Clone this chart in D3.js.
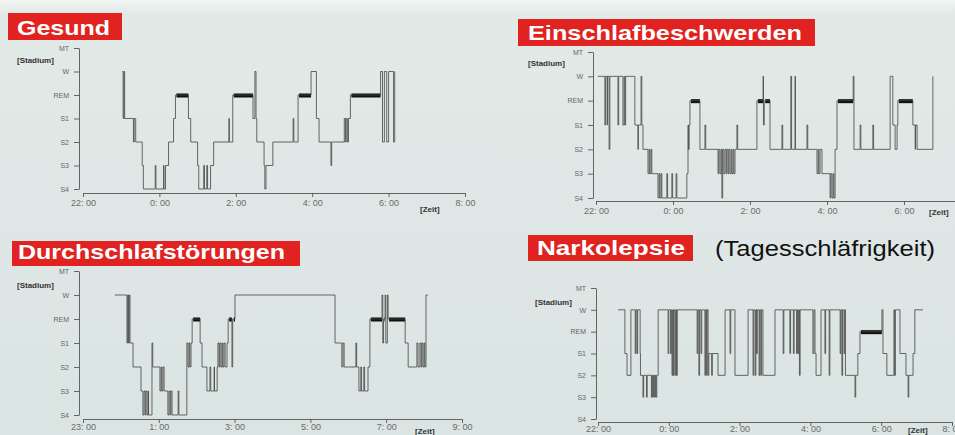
<!DOCTYPE html>
<html>
<head>
<meta charset="utf-8">
<script src="https://cdn.jsdelivr.net/npm/d3@7"></script>
<style>
  html, body { margin: 0; padding: 0; background: #dde6e4; }
  svg { display: block; }
  .tick text { font-family: 'Liberation Sans', Arial, sans-serif; }
</style>
</head>
<body>
<div id="chart"></div>
<script>
// sleep stages, top to bottom
const stages = ['MT', 'W', 'REM', 'S1', 'S2', 'S3', 'S4']

// [clock hour (past midnight continues above 24), stage]
const gesund = [
  [23.03, 'W'], [23.05, 'S1'], [23.07, 'W'], [23.09, 'S1'], [23.32, 'S2'], [23.34, 'S1'], [23.38, 'S2'],
  [23.55, 'S3'], [23.58, 'S4'], [23.89, 'S3'], [23.91, 'S4'], [24.11, 'S3'], [24.12, 'S4'], [24.16, 'S3'],
  [24.24, 'S2'], [24.37, 'S1'], [24.42, 'REM'], [24.76, 'S1'], [24.82, 'S2'], [25.0, 'S3'], [25.03, 'S4'],
  [25.16, 'S3'], [25.18, 'S4'], [25.24, 'S3'], [25.26, 'S4'], [25.34, 'S3'], [25.42, 'S2'], [25.82, 'S1'],
  [25.83, 'S2'], [25.92, 'REM'], [26.45, 'S1'], [26.5, 'W'], [26.53, 'S1'], [26.55, 'S2'], [26.74, 'S3'],
  [26.76, 'S4'], [26.79, 'S3'], [26.97, 'S2'], [27.5, 'S1'], [27.52, 'S2'], [27.63, 'REM'], [27.97, 'W'],
  [28.11, 'S1'], [28.18, 'S2'], [28.49, 'S3'], [28.51, 'S2'], [28.84, 'S1'], [28.87, 'S2'], [28.89, 'S1'],
  [28.92, 'S2'], [28.95, 'S1'], [29.0, 'REM'], [29.79, 'W'], [29.84, 'S2'], [29.89, 'W'], [29.95, 'S2'],
  [30.0, 'W'], [30.13, 'S2'], [30.16, 'W']
]

const einschlaf = [
  [22.05, 'W'], [22.23, 'S1'], [22.25, 'W'], [22.29, 'S1'], [22.3, 'W'], [22.34, 'S2'], [22.36, 'W'],
  [22.57, 'S1'], [22.59, 'W'], [22.7, 'S1'], [22.73, 'W'], [22.75, 'S1'], [22.77, 'W'], [23.01, 'S1'],
  [23.09, 'S2'], [23.1, 'S1'], [23.17, 'W'], [23.19, 'S1'], [23.22, 'S2'], [23.35, 'S3'], [23.38, 'S2'],
  [23.4, 'S3'], [23.43, 'S2'], [23.45, 'S3'], [23.61, 'S4'], [23.64, 'S3'], [23.66, 'S4'], [23.69, 'S3'],
  [23.71, 'S4'], [23.84, 'S3'], [23.86, 'S4'], [23.97, 'S3'], [23.99, 'S4'], [24.08, 'S3'], [24.1, 'S4'],
  [24.36, 'S3'], [24.39, 'S1'], [24.4, 'S2'], [24.42, 'S1'], [24.44, 'REM'], [24.7, 'S2'], [24.83, 'S1'],
  [24.85, 'S2'], [25.17, 'S3'], [25.19, 'S2'], [25.22, 'S3'], [25.25, 'S2'], [25.27, 'S4'], [25.29, 'S2'],
  [25.32, 'S3'], [25.35, 'S2'], [25.38, 'S3'], [25.4, 'S2'], [25.43, 'S3'], [25.45, 'S2'], [25.48, 'S3'],
  [25.51, 'S2'], [25.53, 'S3'], [25.56, 'S2'], [25.58, 'S3'], [25.61, 'S2'], [25.66, 'S1'], [25.68, 'S2'],
  [26.18, 'REM'], [26.34, 'W'], [26.35, 'S1'], [26.37, 'REM'], [26.52, 'S2'], [26.83, 'S1'], [26.85, 'S2'],
  [27.06, 'W'], [27.08, 'S2'], [27.17, 'W'], [27.18, 'S2'], [27.48, 'S1'], [27.5, 'S2'], [27.74, 'S3'],
  [27.77, 'S2'], [27.79, 'S3'], [27.82, 'S2'], [27.87, 'S3'], [28.08, 'S4'], [28.1, 'S3'], [28.13, 'S4'],
  [28.16, 'S3'], [28.18, 'S4'], [28.21, 'S2'], [28.26, 'REM'], [28.68, 'W'], [28.7, 'S2'], [28.86, 'S1'],
  [28.88, 'S2'], [29.19, 'S1'], [29.21, 'S2'], [29.64, 'W'], [29.71, 'S1'], [29.77, 'S2'], [29.82, 'S1'],
  [29.84, 'REM'], [30.23, 'S1'], [30.29, 'S2'], [30.3, 'S1'], [30.34, 'S2'], [30.75, 'W']
]

const durchschlaf = [
  [23.84, 'W'], [24.16, 'S1'], [24.18, 'W'], [24.2, 'S1'], [24.22, 'W'], [24.24, 'S1'], [24.32, 'S2'],
  [24.53, 'S3'], [24.58, 'S4'], [24.61, 'S3'], [24.64, 'S4'], [24.66, 'S3'], [24.69, 'S4'], [24.72, 'S3'],
  [24.73, 'S4'], [24.82, 'S1'], [24.84, 'S2'], [25.03, 'S3'], [25.06, 'S2'], [25.08, 'S3'], [25.11, 'S2'],
  [25.14, 'S3'], [25.24, 'S4'], [25.27, 'S3'], [25.3, 'S4'], [25.32, 'S3'], [25.35, 'S4'], [25.51, 'S3'],
  [25.53, 'S4'], [25.74, 'S1'], [25.77, 'S2'], [25.8, 'S1'], [25.82, 'S2'], [25.85, 'S1'], [25.88, 'REM'],
  [26.09, 'S1'], [26.14, 'S2'], [26.27, 'S3'], [26.35, 'S2'], [26.37, 'S3'], [26.46, 'S2'], [26.47, 'S3'],
  [26.54, 'S2'], [26.56, 'S1'], [26.59, 'S2'], [26.61, 'S1'], [26.64, 'S2'], [26.67, 'S1'], [26.69, 'S2'],
  [26.72, 'S1'], [26.75, 'S2'], [26.8, 'S1'], [26.83, 'REM'], [26.93, 'S2'], [26.95, 'REM'], [27.01, 'W'],
  [29.65, 'S1'], [29.83, 'S2'], [29.86, 'S1'], [29.89, 'S2'], [30.2, 'S1'], [30.22, 'S2'], [30.28, 'S3'],
  [30.33, 'S2'], [30.35, 'S3'], [30.41, 'S2'], [30.43, 'S3'], [30.52, 'S2'], [30.57, 'REM'], [30.89, 'W'],
  [30.91, 'S1'], [30.93, 'REM'], [30.97, 'W'], [30.99, 'S1'], [31.03, 'W'], [31.05, 'REM'], [31.5, 'S1'],
  [31.58, 'S2'], [31.81, 'S1'], [31.84, 'S2'], [31.89, 'S1'], [31.92, 'S2'], [31.94, 'S1'], [31.97, 'S2'],
  [32.0, 'S1'], [32.02, 'S2'], [32.05, 'W'], [32.1, 'W']
]

const narkolepsie = [
  [22.57, 'W'], [22.76, 'S1'], [22.82, 'S2'], [22.93, 'W'], [23.05, 'S1'], [23.07, 'W'], [23.1, 'S1'],
  [23.12, 'W'], [23.19, 'S1'], [23.2, 'S2'], [23.27, 'S3'], [23.29, 'S2'], [23.37, 'S3'], [23.39, 'S2'],
  [23.51, 'S3'], [23.53, 'S2'], [23.55, 'S3'], [23.57, 'S2'], [23.6, 'S3'], [23.62, 'S2'], [23.64, 'S3'],
  [23.66, 'S2'], [23.7, 'W'], [23.98, 'S1'], [24.0, 'W'], [24.05, 'S1'], [24.07, 'W'], [24.09, 'S2'],
  [24.11, 'W'], [24.13, 'S2'], [24.15, 'W'], [24.18, 'S2'], [24.2, 'W'], [24.22, 'S2'], [24.24, 'W'],
  [24.8, 'S1'], [24.82, 'W'], [24.85, 'S2'], [24.87, 'W'], [24.91, 'S1'], [24.93, 'W'], [25.02, 'S2'],
  [25.04, 'W'], [25.07, 'S2'], [25.08, 'W'], [25.11, 'S2'], [25.13, 'S1'], [25.21, 'S2'], [25.23, 'S1'],
  [25.39, 'S2'], [25.59, 'W'], [25.73, 'S1'], [25.75, 'W'], [25.87, 'S2'], [26.24, 'W'], [26.38, 'S2'],
  [26.4, 'W'], [26.44, 'S2'], [26.46, 'W'], [26.48, 'S1'], [26.5, 'W'], [26.55, 'S2'], [26.57, 'W'],
  [26.6, 'S2'], [26.62, 'W'], [26.66, 'S2'], [27.0, 'W'], [27.23, 'S1'], [27.25, 'W'], [27.42, 'S1'],
  [27.44, 'W'], [27.52, 'S1'], [27.54, 'W'], [27.61, 'S1'], [27.63, 'W'], [27.65, 'S1'], [27.67, 'W'],
  [27.69, 'S2'], [27.71, 'W'], [28.07, 'S1'], [28.1, 'W'], [28.13, 'S1'], [28.16, 'S2'], [28.3, 'W'],
  [28.41, 'S1'], [28.43, 'W'], [28.53, 'S2'], [28.55, 'W'], [28.84, 'S1'], [28.86, 'W'], [28.89, 'S2'],
  [28.91, 'W'], [28.95, 'S1'], [28.97, 'W'], [28.99, 'S2'], [29.26, 'S3'], [29.28, 'S2'], [29.34, 'S1'],
  [29.4, 'REM'], [30.02, 'W'], [30.05, 'S1'], [30.16, 'S2'], [30.36, 'W'], [30.38, 'S2'], [30.4, 'W'],
  [30.53, 'S1'], [30.7, 'S2'], [30.76, 'S3'], [30.78, 'S2'], [30.9, 'S1'], [30.95, 'W'], [31.18, 'W']
]

const ticksEven = [22, 24, 26, 28, 30, 32]
const ticksEvenShort = [22, 24, 26, 28, 30]
const ticksOdd = [23, 25, 27, 29, 31, 33]

const titles = ['Gesund', 'Einschlafbeschwerden', 'Durchschlafstörungen', 'Narkolepsie']
const subtitle = '(Tagesschläfrigkeit)'

const width = 955
const height = 435
const font = "'Liberation Sans', Arial, sans-serif"

const svg = d3.select('#chart').append('svg')
  .attr('width', width)
  .attr('height', height)

// photo-like backdrop: paler strip on top
const grad = svg.append('defs').append('linearGradient')
  .attr('id', 'bg').attr('x1', 0).attr('y1', 0).attr('x2', 0).attr('y2', 1)
grad.append('stop').attr('offset', 0).attr('stop-color', '#f3f6f5')
grad.append('stop').attr('offset', 0.03).attr('stop-color', '#e2eae8')
grad.append('stop').attr('offset', 1).attr('stop-color', '#dae4e2')
svg.append('rect').attr('width', width).attr('height', height).attr('fill', 'url(#bg)')

const panels = [
  { title: titles[0], data: gesund, domain: [22, 32], ticks: ticksEven, x0: 83, x1: 465,
    axisX: 79, yTop: 48, yBot: 189, axisY: 193, tickPad: 3,
    box: [8, 13, 114, 27], titleX: 17, titleY: 35, titleLen: 93,
    stadium: [17, 63], zeit: [420, 212] },
  { title: titles[1], data: einschlaf, domain: [22, 32], ticks: ticksEvenShort, x0: 596, x1: 981,
    axisX: 593, yTop: 52, yBot: 198, axisY: 201, tickPad: 3,
    box: [518, 19, 297, 27], titleX: 528, titleY: 40, titleLen: 274,
    stadium: [528, 66], zeit: [929, 215] },
  { title: titles[2], data: durchschlaf, domain: [23, 33], ticks: ticksOdd, x0: 83, x1: 462,
    axisX: 79, yTop: 271, yBot: 415, axisY: 419, tickPad: 1,
    box: [12, 241, 288, 25], titleX: 18, titleY: 259, titleLen: 267,
    stadium: [17, 288], zeit: [415, 434] },
  { title: titles[3], data: narkolepsie, domain: [22, 32], ticks: ticksEven, x0: 598, x1: 952,
    axisX: 596, yTop: 288, yBot: 419, axisY: 422, tickPad: 0,
    box: [528, 235, 165, 26], titleX: 537, titleY: 255, titleLen: 148,
    stadium: [535, 305], zeit: [908, 433] }
]

panels.forEach(drawPanel)

svg.append('text')
  .attr('x', 715).attr('y', 256)
  .attr('textLength', 220).attr('lengthAdjust', 'spacingAndGlyphs')
  .attr('font-family', font).attr('font-size', 22).attr('fill', '#111')
  .text(subtitle)

function drawPanel(p) {
  const g = svg.append('g')

  const x = d3.scaleLinear().domain(p.domain).range([p.x0, p.x1])
  const y = d3.scalePoint().domain(stages).range([p.yTop, p.yBot])

  // title badge
  g.append('rect')
    .attr('x', p.box[0]).attr('y', p.box[1])
    .attr('width', p.box[2]).attr('height', p.box[3])
    .attr('fill', '#e02320')
  g.append('text')
    .attr('x', p.titleX).attr('y', p.titleY)
    .attr('textLength', p.titleLen).attr('lengthAdjust', 'spacingAndGlyphs')
    .attr('font-family', font).attr('font-weight', 'bold').attr('font-size', 21)
    .attr('fill', '#fff')
    .text(p.title)

  const yAxis = g.append('g')
    .attr('transform', `translate(${p.axisX},0)`)
    .call(d3.axisLeft(y).tickSize(5).tickSizeOuter(0).tickPadding(5))
  yAxis.selectAll('text').attr('font-size', 7).attr('fill', '#666')

  const xAxis = g.append('g')
    .attr('transform', `translate(0,${p.axisY})`)
    .call(d3.axisBottom(x)
      .tickValues(p.ticks)
      .tickFormat(h => `${h % 24}: 00`)
      .tickSize(4).tickSizeOuter(0).tickPadding(p.tickPad))
  xAxis.selectAll('text').attr('font-size', 9).attr('fill', '#6a6a6a')

  g.selectAll('.domain, .tick line').attr('stroke', '#555').attr('stroke-width', 0.9)

  g.append('text')
    .attr('x', p.stadium[0]).attr('y', p.stadium[1])
    .attr('font-family', font).attr('font-weight', 'bold').attr('font-size', 8)
    .attr('fill', '#333')
    .text('[Stadium]')
  g.append('text')
    .attr('x', p.zeit[0]).attr('y', p.zeit[1])
    .attr('font-family', font).attr('font-weight', 'bold').attr('font-size', 8)
    .attr('fill', '#333')
    .text('[Zeit]')

  // REM periods drawn as thick bars
  const remBars = p.data
    .map((d, i) => ({ d, next: p.data[i + 1] }))
    .filter(s => s.d[1] === 'REM' && s.next)
  g.selectAll('rect.rem')
    .data(remBars)
    .join('rect')
    .attr('class', 'rem')
    .attr('x', s => x(s.d[0]) + 1)
    .attr('width', s => Math.max(0, x(s.next[0]) - x(s.d[0]) - 1))
    .attr('y', y('REM') - 1.5)
    .attr('height', 4)
    .attr('fill', '#111')

  const line = d3.line()
    .x(d => x(d[0]))
    .y(d => y(d[1]))
    .curve(d3.curveStepAfter)

  g.append('path')
    .datum(p.data)
    .attr('d', line)
    .attr('fill', 'none')
    .attr('stroke', '#444')
    .attr('stroke-width', 0.8)
}
</script>
</body>
</html>
